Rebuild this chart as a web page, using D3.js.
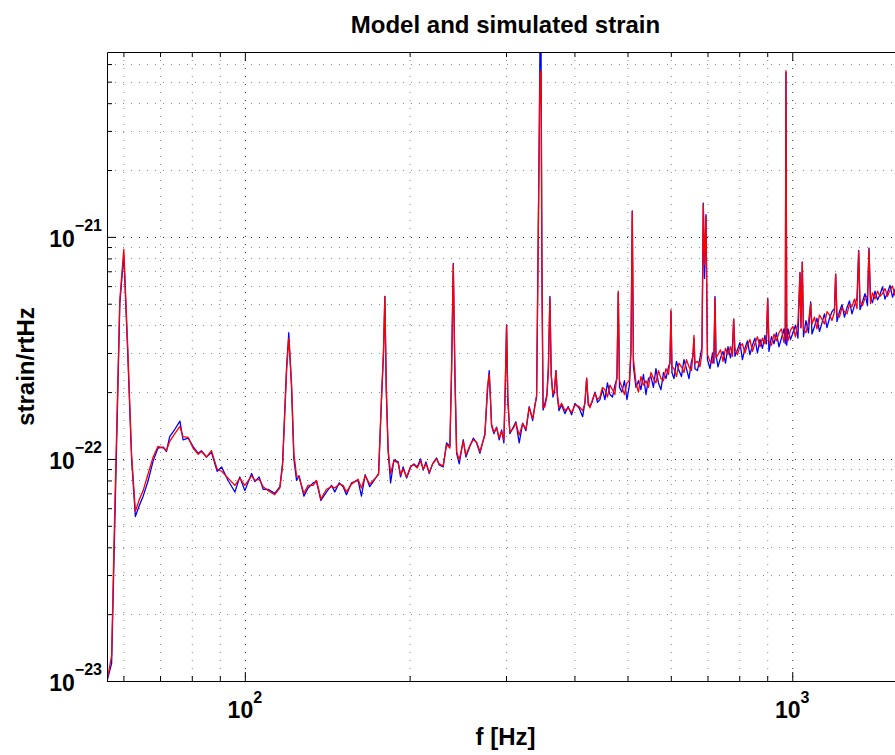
<!DOCTYPE html>
<html><head><meta charset="utf-8">
<script src="https://cdn.jsdelivr.net/npm/d3@7"></script>
<style>body{margin:0;background:#fff}svg{display:block}</style>
</head><body><svg id="c" width="895" height="755"></svg>
<script>
// ---------------- data (strain values in units of 1e-22 /rtHz) ----------------
const UNIT = 1e-22;
const freqs = [
56.0,57.1,57.8,59.1,60.1,61.1,62.1,63.1,64.2,65.2,66.6,68.0,69.4,71.0,71.9,72.9,74.5,76.1,77.1,78.8,
80.4,82.2,83.3,85.1,86.9,89.0,90.7,93.2,95.9,97.9,100.0,102.9,104.3,106.2,108.0,110.3,113.4,115.9,117.2,119.2,
120.3,121.7,122.9,124.3,125.6,128.2,130.5,133.3,135.2,137.7,141.0,144.0,146.0,148.7,151.2,153.3,156.6,161.0,163.3,165.9,
169.1,171.6,175.5,177.6,179.2,180.2,181.3,182.7,184.6,187.2,190.6,192.5,194.6,197.5,200.9,203.7,206.5,209.4,211.8,214.2,
217.2,220.3,224.0,226.5,230.3,233.6,236.9,238.6,240.3,242.0,243.7,246.4,250.6,253.4,257.7,261.4,265.1,268.8,274.5,277.4,
279.5,280.9,282.3,285.1,288.3,291.5,294.5,297.3,299.2,300.7,302.3,304.9,309.2,312.7,317.1,321.7,326.2,330.7,335.6,338.8,
341.2,344.9,346.0,346.8,347.6,348.9,350.6,353.3,356.3,358.5,360.8,362.8,365.4,367.7,370.1,372.4,374.8,379.0,384.3,389.7,
395.3,400.9,408.2,414.1,418.1,421.1,424.0,427.0,431.5,436.1,440.7,445.3,
450.1,454.8,459.6,464.5,469.4,474.3,478.4,481.0,483.5,488.5,
493.7,498.9,504.1,507.4,510.2,512.7,518.2,523.6,529.1,534.7,
540.4,546.1,551.9,557.7,563.6,569.6,575.6,581.8,587.9,594.2,
597.9,600.4,602.9,608.0,614.4,620.9,627.5,634.1,640.8,647.6,
654.4,658.6,661.3,664.1,671.1,678.3,684.0,687.8,691.3,695.6,
700.0,707.4,714.9,719.4,722.5,725.5,731.7,739.4,747.2,755.1,
763.1,771.1,777.7,781.6,785.7,794.1,802.4,810.9,819.5,828.1,
836.9,845.8,854.6,863.7,873.0,882.1,891.5,897.2,901.8,906.6,
916.2,926.0,935.6,945.6,955.6,965.6,971.0,973.9,977.1,982.1,
992.5,1003.0,1013.5,1024.2,1033.0,1037.3,1043.0,1048.4,1059.3,1070.6,
1080.5,1086.4,1098.1,1109.5,1121.3,1133.3,1145.0,1157.2,1169.5,1181.7,
1194.3,1200.3,1206.9,1219.5,1232.5,1245.6,1258.7,1272.1,1285.6,1299.0,
1312.9,1322.3,1329.6,1343.8,1357.8,1372.2,1380.8,1389.7,1401.3,1416.2,
1431.3,1446.2,1461.6,1477.2,1492.6,1508.5,1524.5,1540.4,1556.9,1573.5,
1593.5
];
// blue: model strain
const modelStrain = [
0.10,0.12,0.45,5.0,8.3,3.0,1.0,0.55,0.62,0.68,0.80,0.98,1.12,1.13,1.08,1.26,1.36,1.48,1.22,1.24,
1.14,1.06,1.09,1.02,1.07,0.88,0.92,0.80,0.71,0.83,0.72,0.86,0.79,0.83,0.73,0.73,0.70,0.75,0.96,2.6,
3.7,2.1,1.00,0.80,0.84,0.68,0.74,0.78,0.79,0.65,0.71,0.76,0.71,0.78,0.75,0.69,0.78,0.80,0.68,0.85,
0.75,0.79,0.86,1.8,3.0,5.4,2.0,1.09,0.78,0.99,0.97,0.83,0.92,0.82,0.92,0.95,0.92,1.00,0.89,0.97,
0.86,0.95,1.01,0.94,0.92,1.18,1.14,2.5,7.6,2.3,1.06,0.95,1.22,1.02,1.14,1.24,1.18,1.06,1.30,2.0,
2.5,1.9,1.41,1.30,1.39,1.22,1.35,1.18,2.2,4.0,1.8,1.30,1.39,1.47,1.18,1.45,1.34,1.72,1.49,1.75,
1.90,28,70,72,70,8,1.66,1.78,1.95,2.6,5.4,2.4,1.9,2.0,2.5,1.9,1.65,1.75,1.60,1.72,
1.58,1.78,1.69,1.55,1.8,2.31,1.75,1.72,1.82,2.0,1.8,1.85,
2.05,1.85,2.2,1.95,1.9,2.15,2.3,5.6,2.1,2.0,
2.25,1.85,2.15,3.0,13.1,2.6,2.1,2.25,2.05,2.4,
1.95,2.3,2.35,2.1,2.55,2.2,2.05,2.45,2.3,2.6,
2.7,4.6,2.45,2.3,2.75,2.5,2.35,2.8,2.55,2.3,
2.75,2.9,3.5,2.55,2.5,2.85,3.2,14.2,6.5,12.6,
2.8,2.55,3.0,2.7,5.4,2.95,2.6,2.85,3.05,2.7,
3.2,2.85,3.25,4.26,2.9,3.1,3.35,2.8,3.15,3.4,
2.95,3.25,3.5,3.0,3.45,3.15,3.6,3.3,5.3,3.05,
3.55,3.3,3.7,3.2,3.5,3.85,3.3,55,3.25,3.85,
3.45,3.7,4.0,3.5,6.9,3.9,7.7,3.55,4.2,3.7,
5.1,3.65,3.95,4.3,3.75,4.1,4.5,3.9,4.3,4.6,
4.75,6.8,4.15,4.6,4.95,4.35,4.8,5.15,4.5,4.9,
5.3,8.7,4.7,5.1,5.55,4.9,8.9,5.3,5.05,5.7,
5.2,5.5,5.95,5.25,5.6,6.05,5.35,5.8,6.15,5.5,
5.95
];
// red: simulated strain
const simStrain = [
0.10,0.13,0.53,5.2,8.8,3.2,1.05,0.58,0.66,0.72,0.86,1.02,1.14,1.12,1.09,1.20,1.30,1.40,1.26,1.25,
1.12,1.05,1.08,1.02,1.09,0.90,0.88,0.82,0.76,0.82,0.76,0.84,0.80,0.81,0.75,0.72,0.69,0.74,0.93,2.5,
3.5,2.2,1.06,0.84,0.83,0.70,0.76,0.76,0.80,0.66,0.73,0.75,0.74,0.77,0.76,0.71,0.77,0.81,0.74,0.84,
0.77,0.80,0.85,1.85,3.1,5.4,2.1,1.10,0.86,0.98,0.96,0.85,0.90,0.83,0.93,0.94,0.91,0.98,0.90,0.95,
0.87,0.95,1.00,0.95,0.93,1.16,1.12,2.6,7.5,2.4,1.08,0.99,1.20,1.04,1.15,1.22,1.19,1.08,1.28,2.1,
2.4,1.9,1.43,1.32,1.38,1.25,1.33,1.22,2.3,4.0,1.9,1.32,1.37,1.45,1.28,1.44,1.36,1.70,1.52,1.73,
1.95,25,55,40,56,6,1.7,1.72,1.92,2.5,5.3,2.4,1.95,2.05,2.5,1.95,1.7,1.78,1.65,1.70,
1.62,1.75,1.72,1.65,1.78,2.31,1.80,1.70,1.85,1.98,1.85,1.90,
2.1,2.05,1.9,2.15,2.05,1.95,2.4,5.7,2.25,2.1,
1.95,2.2,2.25,3.2,13.0,2.8,2.2,2.0,2.35,2.15,
2.25,2.1,2.45,2.3,2.2,2.5,2.3,2.25,2.55,2.4,
2.8,4.7,2.6,2.55,2.35,2.7,2.6,2.45,2.8,2.6,
2.5,2.95,3.6,2.7,2.75,2.6,3.0,14.0,7.5,12.4,
2.95,2.75,2.7,3.1,5.3,2.85,2.95,3.1,2.75,3.15,
2.95,3.2,2.9,4.26,3.15,2.95,3.2,3.3,3.0,3.25,
3.45,3.05,3.3,3.55,3.2,3.5,3.3,3.6,5.25,3.4,
3.25,3.65,3.4,3.7,3.85,3.35,3.75,56,3.55,3.4,
3.8,3.95,3.55,4.1,6.9,3.9,7.7,3.85,3.7,4.15,
5.0,4.05,4.35,3.85,4.45,4.25,4.05,4.6,4.45,4.2,
4.6,6.8,4.5,4.35,4.8,4.6,4.5,4.95,4.85,5.25,
4.75,8.6,5.15,4.9,5.3,5.45,8.8,5.0,5.6,5.25,
5.7,5.4,5.55,5.85,5.4,5.75,6.0,5.45,5.9,6.05,
5.6
];
const xMajorTicks = [100, 1000];
const xMinorTicks = [60,70,80,90,200,300,400,500,600,700,800,900];
const xTickExponents = ["2", "3"];
const yMajorTicks = [1e-23, 1e-22, 1e-21];
const yMinorTicks = [2e-23,3e-23,4e-23,5e-23,6e-23,7e-23,8e-23,9e-23,
                     2e-22,3e-22,4e-22,5e-22,6e-22,7e-22,8e-22,9e-22,
                     2e-21,3e-21,4e-21,5e-21,6e-21];
const yTickExponents = ["\u221223", "\u221222", "\u221221"];
const titleText = "Model and simulated strain";
const xLabelText = "f [Hz]";
const yLabelText = "strain/rtHz";

// ---------------- layout ----------------
const L = 107, R = 904, T = 52, B = 681;
const FONT = "'Liberation Sans', Arial, Helvetica, sans-serif";
const svg = d3.select("#c");
const x = d3.scaleLog().domain([56, 1600]).range([L, R]);
const y = d3.scaleLog().domain([1e-23, 6.8e-21]).range([B, T]);

svg.append("defs").append("clipPath").attr("id", "clip")
  .append("rect").attr("x", L).attr("y", T).attr("width", R - L).attr("height", B - T);

// grid
const grid = svg.append("g");
function vgrid(vals, color) {
  grid.append("g").selectAll("line").data(vals).join("line")
    .attr("x1", d => x(d) + 0.5).attr("x2", d => x(d) + 0.5)
    .attr("y1", T).attr("y2", B)
    .attr("stroke", color).attr("stroke-width", 1).attr("stroke-dasharray", "1,7");
}
function hgrid(vals, color) {
  grid.append("g").selectAll("line").data(vals).join("line")
    .attr("y1", d => Math.round(y(d)) + 0.5).attr("y2", d => Math.round(y(d)) + 0.5)
    .attr("x1", L).attr("x2", R)
    .attr("stroke", color).attr("stroke-width", 1).attr("stroke-dasharray", "1,7");
}
vgrid(xMinorTicks, "#8a8a8a"); hgrid(yMinorTicks, "#8a8a8a");
vgrid(xMajorTicks, "#222"); hgrid(yMajorTicks, "#222");

// series
const pts = (vals) => freqs.map((f, i) => ({ f, v: vals[i] * UNIT }));
const line = d3.line().x(d => x(d.f)).y(d => y(d.v));
const plot = svg.append("g").attr("clip-path", "url(#clip)");
plot.append("path").datum(pts(modelStrain)).attr("d", line)
  .attr("fill", "none").attr("stroke", "#0000ff").attr("stroke-width", 1.3).attr("stroke-linejoin", "round");
plot.append("path").datum(pts(simStrain)).attr("d", line)
  .attr("fill", "none").attr("stroke", "#ff0000").attr("stroke-width", 1.3).attr("stroke-linejoin", "round");

// axes (ticks inward)
function addAxis(gen, tx, ty, vals, size, keepDomain) {
  const g = svg.append("g").attr("transform", `translate(${tx},${ty})`)
    .call(gen.tickValues(vals).tickSize(-size).tickSizeOuter(0).tickFormat(""));
  g.selectAll("line").attr("stroke", "#000");
  g.select(".domain").attr("stroke", keepDomain ? "#000" : "none");
  return g;
}
addAxis(d3.axisBottom(x), 0, B, xMinorTicks, 5, false);
addAxis(d3.axisTop(x), 0, T, xMinorTicks, 5, false);
addAxis(d3.axisLeft(y), L, 0, yMinorTicks, 5, false);
addAxis(d3.axisRight(y), R, 0, yMinorTicks, 5, false);
addAxis(d3.axisBottom(x), 0, B, xMajorTicks, 9, true);
addAxis(d3.axisTop(x), 0, T, xMajorTicks, 9, true);
addAxis(d3.axisLeft(y), L, 0, yMajorTicks, 9, true);
addAxis(d3.axisRight(y), R, 0, yMajorTicks, 9, true);

// tick labels
const xl = svg.append("g").selectAll("text").data(xMajorTicks).join("text")
  .attr("x", d => x(d)).attr("y", 718).attr("text-anchor", "middle")
  .attr("font-family", FONT).attr("font-weight", "bold").attr("font-size", 23);
xl.append("tspan").text("10");
xl.append("tspan").attr("font-size", 16).attr("dy", -15).text((d, i) => xTickExponents[i]);

const yl = svg.append("g").selectAll("text").data(yMajorTicks).join("text")
  .attr("x", 102).attr("y", d => y(d) + 10).attr("text-anchor", "end")
  .attr("font-family", FONT).attr("font-weight", "bold").attr("font-size", 23);
yl.append("tspan").text("10");
yl.append("tspan").attr("font-size", 16).attr("dy", -16).text((d, i) => yTickExponents[i]);

// titles
svg.append("text").attr("x", (L + R) / 2).attr("y", 33).attr("text-anchor", "middle")
  .attr("font-family", FONT).attr("font-weight", "bold").attr("font-size", 24).text(titleText);
svg.append("text").attr("x", (L + R) / 2).attr("y", 745).attr("text-anchor", "middle")
  .attr("font-family", FONT).attr("font-weight", "bold").attr("font-size", 24).text(xLabelText);
svg.append("text").attr("transform", `translate(34,${(T + B) / 2}) rotate(-90)`).attr("text-anchor", "middle")
  .attr("font-family", FONT).attr("font-weight", "bold").attr("font-size", 24).text(yLabelText);
</script>
</body></html>
